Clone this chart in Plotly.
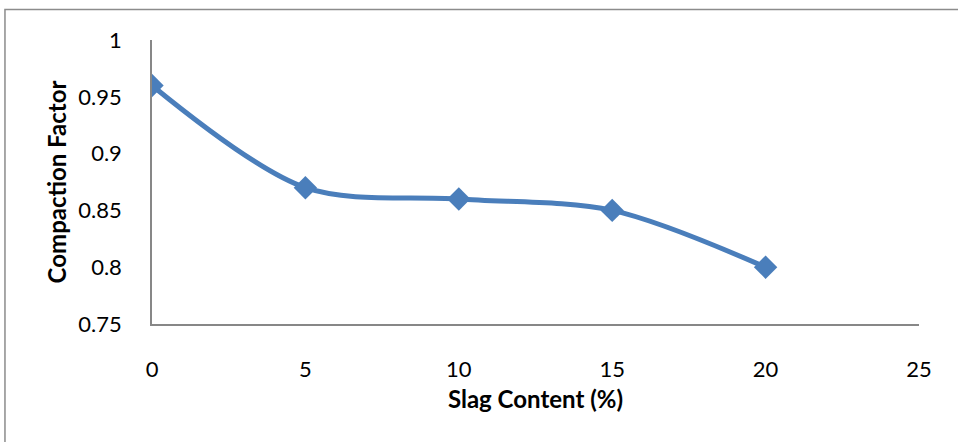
import plotly.graph_objects as go

# Compaction factor of concrete mixes vs slag replacement level
slag_content = [0, 5, 10, 15, 20]
compaction_factor = [0.96, 0.87, 0.86, 0.85, 0.80]

x_ticks = [0, 5, 10, 15, 20, 25]
y_ticks = [0.75, 0.8, 0.85, 0.9, 0.95, 1]
y_tick_text = ["0.75", "0.8", "0.85", "0.9", "0.95", "1"]

FONT = "Lato"
AXIS_GREY = "#878787"
LINE_BLUE = "#4a7ebb"

fig = go.Figure()
fig.add_trace(go.Scatter(
    x=slag_content,
    y=compaction_factor,
    mode="lines+markers",
    line=dict(color=LINE_BLUE, width=5, shape="spline", smoothing=0.9),
    marker=dict(symbol="diamond", size=18, color=LINE_BLUE),
    showlegend=False,
))

fig.update_layout(
    width=958,
    height=442,
    margin=dict(l=152, r=39, t=40, b=118),
    paper_bgcolor="white",
    plot_bgcolor="white",
    font=dict(family=FONT, size=22, color="black"),
    xaxis=dict(
        range=[0, 25],
        tickvals=x_ticks,
        showgrid=False,
        zeroline=False,
        showline=True,
        linecolor=AXIS_GREY,
        linewidth=1.5,
        ticks="",
        ticklabelstandoff=25,
        title=dict(text="<b>Slag Content (%)</b>", font=dict(size=24), standoff=10),
    ),
    yaxis=dict(
        range=[0.75, 1],
        tickvals=y_ticks,
        ticktext=y_tick_text,
        showgrid=False,
        zeroline=False,
        showline=True,
        linecolor=AXIS_GREY,
        linewidth=1.5,
        ticks="",
        ticklabelstandoff=24,
        title=dict(text="<b>Compaction Factor</b>", font=dict(size=24), standoff=5),
    ),
    shapes=[dict(
        type="rect", xref="paper", yref="paper",
        x0=-0.1917, x1=1.2, y0=-0.6, y1=1.1074,
        line=dict(color="#8c8c8c", width=1.5),
        fillcolor="rgba(0,0,0,0)", layer="below",
    )],
)

fig.write_html("out.html")
